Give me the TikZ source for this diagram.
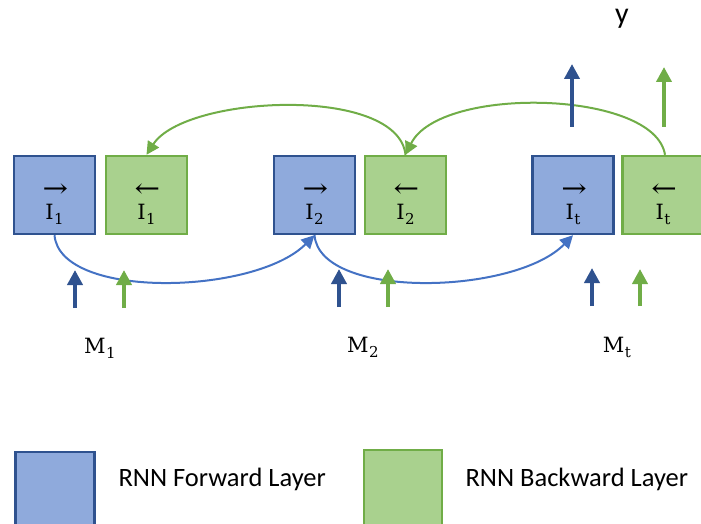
\documentclass[tikz,border=0pt]{standalone}
\usepackage{fontspec}
\usepackage{graphicx}
\newfontfamily\calibrifont{Carlito}
\newfontfamily\labfont{DejaVu Serif}
\usetikzlibrary{arrows.meta}
\definecolor{fwdfill}{HTML}{8FAADC}
\definecolor{fwdline}{HTML}{2F528F}
\definecolor{bwdfill}{HTML}{A9D18E}
\definecolor{bwdline}{HTML}{70AD47}
\definecolor{curveblue}{HTML}{4472C4}
\tikzset{
  fwdbox/.style={draw=fwdline, fill=fwdfill, line width=2.4pt, minimum width=81pt, minimum height=78pt, inner sep=0pt},
  bwdbox/.style={draw=bwdline, fill=bwdfill, line width=2.4pt, minimum width=81pt, minimum height=78pt, inner sep=0pt},
  boxtext/.style={inner sep=0pt, align=center, font=\labfont\fontsize{21}{24}\selectfont, yshift=-9pt},
  fwdcurve/.style={draw=curveblue, line width=2pt, -{Triangle[width=13pt,length=13pt]}},
  bwdcurve/.style={draw=bwdline, line width=2pt, -{Triangle[width=13pt,length=13pt]}},
  uparrowb/.style={draw=fwdline, line width=4pt, -{Triangle[width=15pt,length=15pt]}},
  uparrowg/.style={draw=bwdline, line width=4pt, -{Triangle[width=15pt,length=15pt]}},
  mlabel/.style={font=\labfont\fontsize{21}{24}\selectfont, inner sep=0pt},
  legtext/.style={font=\calibrifont\fontsize{26.5}{26.5}\selectfont, anchor=west}
}
\newcommand{\subtxt}[1]{\kern0.5pt\raisebox{-5pt}{\fontsize{15}{15}\selectfont #1}}
\newcommand{\boxlabel}[2]{\shortstack[c]{\kern2pt\scalebox{1.45}[1.25]{#1}\\[4pt]I\subtxt{#2}}}
\begin{document}
\begin{tikzpicture}[x=1pt,y=-1pt]
\useasboundingbox (0,0) rectangle (701,524);
\clip (0,0) rectangle (701,524);
% boxes
\node[fwdbox] (F1) at (54.5,195) {};
\node[bwdbox] (B1) at (146.5,195) {};
\node[fwdbox] (F2) at (314.5,195) {};
\node[bwdbox] (B2) at (405.5,195) {};
\node[fwdbox] (Ft) at (573,195) {};
\node[bwdbox] (Bt) at (663,195) {};
\node[boxtext] (F1l) at (F1.center) {\boxlabel{→}{1}};
\node[boxtext] (B1l) at (B1.center) {\boxlabel{←}{1}};
\node[boxtext] (F2l) at (F2.center) {\boxlabel{→}{2}};
\node[boxtext] (B2l) at (B2.center) {\boxlabel{←}{2}};
\node[boxtext] (Ftl) at (Ft.center) {\boxlabel{→}{t}};
\node[boxtext] (Btl) at (Bt.center) {\boxlabel{←}{t}};
% green backward curves (top)
\draw[bwdcurve] (B2.north) .. controls (398,85) and (185,95) .. (B1.north);
\draw[bwdcurve] ([xshift=2pt]Bt.north) .. controls (655,90) and (440,85) .. (B2.north);
% blue forward curves (bottom)
\draw[fwdcurve] (F1.south) .. controls (60,300) and (255,295) .. (F2.south);
\draw[fwdcurve] (F2.south) .. controls (320,300) and (515,295) .. (Ft.south);
% input arrows
\coordinate (a1s) at (75,308); \coordinate (a1e) at (75,270);
\coordinate (g1s) at (124,308); \coordinate (g1e) at (124,270);
\coordinate (a2s) at (339,307); \coordinate (a2e) at (339,269);
\coordinate (g2s) at (388,307); \coordinate (g2e) at (388,269);
\coordinate (ats) at (592,306); \coordinate (ate) at (592,268);
\coordinate (gts) at (640,306); \coordinate (gte) at (640,269);
\draw[uparrowb] (a1s) -- (a1e);
\draw[uparrowg] (g1s) -- (g1e);
\draw[uparrowb] (a2s) -- (a2e);
\draw[uparrowg] (g2s) -- (g2e);
\draw[uparrowb] (ats) -- (ate);
\draw[uparrowg] (gts) -- (gte);
% output arrows
\coordinate (ob1) at (572,127); \coordinate (ob2) at (572,64);
\coordinate (og1) at (664,127); \coordinate (og2) at (664,67);
\draw[uparrowb] (ob1) -- (ob2);
\draw[uparrowg] (og1) -- (og2);
\node[font=\calibrifont\fontsize{30}{30}\selectfont, inner sep=0pt, anchor=base] (y) at (622,24) {y};
% M labels
\node[mlabel, anchor=base] (M1) at (100,353) {M\subtxt{1}};
\node[mlabel, anchor=base] (M2) at (363,352) {M\subtxt{2}};
\node[mlabel, anchor=base] (Mt) at (617,352) {M\subtxt{t}};
% legend
\node[draw=fwdline, fill=fwdfill, line width=2.4pt, minimum width=79pt, minimum height=80pt, inner sep=0pt] (LF) at (55,492) {};
\node[draw=bwdline, fill=bwdfill, line width=2.4pt, minimum width=78pt, minimum height=80pt, inner sep=0pt] (LB) at (403,490) {};
\node[legtext] (LFt) at (115,479) {RNN Forward Layer};
\node[legtext] (LBt) at (462,479) {RNN Backward Layer};
\end{tikzpicture}
\end{document}
